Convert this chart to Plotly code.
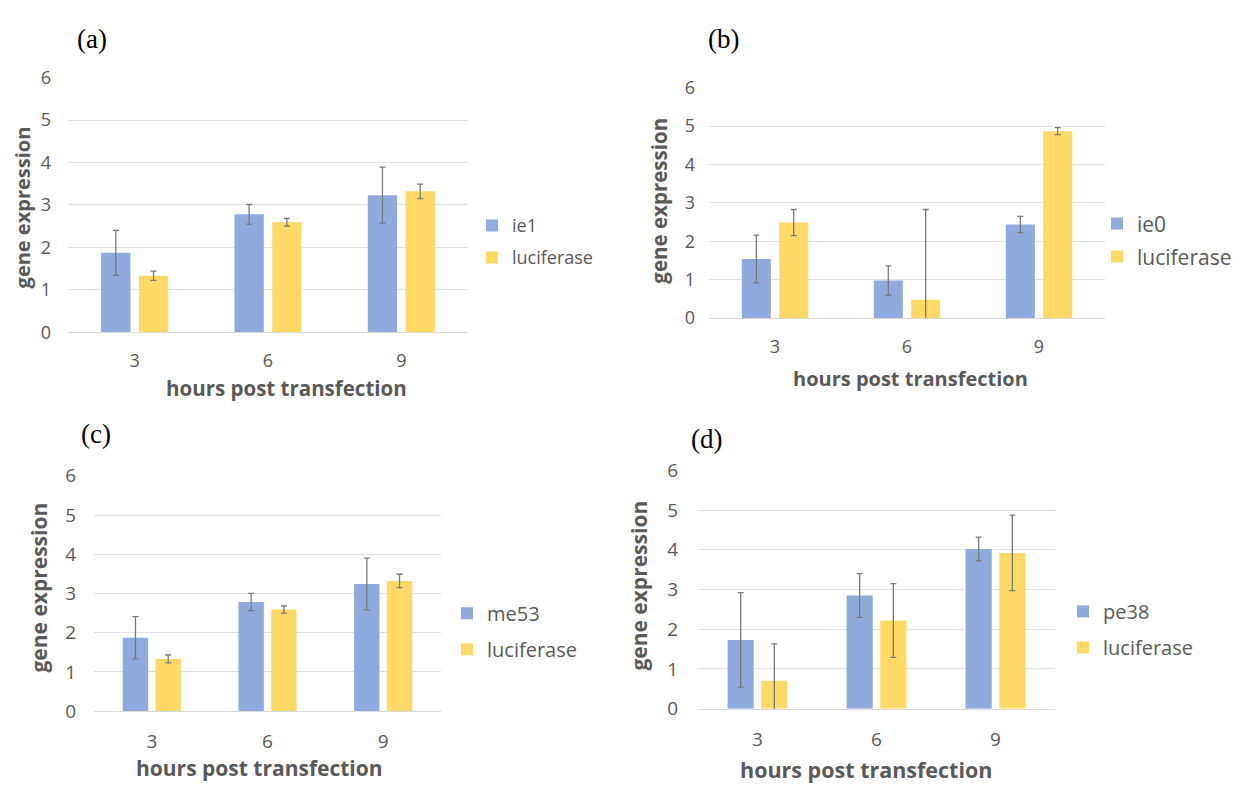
import plotly.graph_objects as go

W, H = 1242, 794

hours = ["3", "6", "9"]

# panel (a)
a_gene_name = "ie1"
a_gene = [1.87, 2.78, 3.23]
a_gene_err = [0.53, 0.23, 0.66]
a_luc = [1.33, 2.59, 3.32]
a_luc_err = [0.11, 0.09, 0.17]

# panel (b)
b_gene_name = "ie0"
b_gene = [1.54, 0.98, 2.44]
b_gene_err = [0.62, 0.38, 0.21]
b_luc = [2.49, 0.48, 4.87]
b_luc_err = [0.34, 2.35, 0.09]

# panel (c)
c_gene_name = "me53"
c_gene = [1.87, 2.78, 3.24]
c_gene_err = [0.54, 0.22, 0.66]
c_luc = [1.33, 2.59, 3.32]
c_luc_err = [0.10, 0.09, 0.17]

# panel (d)
d_gene_name = "pe38"
d_gene = [1.73, 2.85, 4.02]
d_gene_err = [1.19, 0.55, 0.30]
d_luc = [0.70, 2.22, 3.92]
d_luc_err = [0.93, 0.93, 0.95]

panel_letters = ["(a)", "(b)", "(c)", "(d)"]
y_ticks = [0, 1, 2, 3, 4, 5, 6]
x_title = "hours post transfection"
y_title = "gene expression"
luc_name = "luciferase"

BLUE = "#8faadc"
GOLD = "#ffd966"
ERR = "#7a7a7a"
GRID = "#e0e0e0"
TXT = "#595959"
FONT = "Open Sans"

def px(x):
    return x / W

def py(y):
    return 1 - y / H

# pixel geometry per panel
panels = [
    dict(gene_name=a_gene_name, gene=a_gene, gerr=a_gene_err, luc=a_luc, lerr=a_luc_err,
         x0=68, x1=468, y0=330, y6=66, tickfs=18, legfs=18, xtfs=20.5, ytfs=20,
         ytitle=(22, 201), xtitle=(286, 388), letter=(92, 27),
         leg=(512, 215, 247), xstand=12, ystand=16),
    dict(gene_name=b_gene_name, gene=b_gene, gerr=b_gene_err, luc=b_luc, lerr=b_luc_err,
         x0=709, x1=1105, y0=315.5, y6=76.5, tickfs=18, legfs=21, xtfs=20, ytfs=20.5,
         ytitle=(659, 194), xtitle=(910, 378), letter=(723, 27),
         leg=(1137, 213, 246), xstand=12, ystand=13),
    dict(gene_name=c_gene_name, gene=c_gene, gerr=c_gene_err, luc=c_luc, lerr=c_luc_err,
         x0=94, x1=441, y0=721.7, y6=477.7, tickfs=19, legfs=20, xtfs=21, ytfs=21,
         ytitle=(39, 594), xtitle=(259, 781), letter=(96, 435),
         leg=(487, 616, 652), xstand=13, ystand=17),
    dict(gene_name=d_gene_name, gene=d_gene, gerr=d_gene_err, luc=d_luc, lerr=d_luc_err,
         x0=698, x1=1055, y0=719.2, y6=472, tickfs=19, legfs=20, xtfs=21.5, ytfs=21,
         ytitle=(639, 592), xtitle=(866, 782), letter=(706, 440),
         leg=(1103, 614, 650), xstand=14, ystand=19),
]

BAR_W = 0.22
GAP = 0.063

fig = go.Figure()
annotations = []
layout = {}

for i, p in enumerate(panels):
    n = "" if i == 0 else str(i + 1)
    xa, ya = "x" + n, "y" + n
    leg = "legend" + n
    fig.add_trace(go.Bar(
        x=hours, y=p["gene"], name=p["gene_name"], xaxis=xa, yaxis=ya,
        marker=dict(color=BLUE, line=dict(width=0)),
        width=BAR_W, offset=-(BAR_W + GAP / 2),
        error_y=dict(type="data", array=p["gerr"], color=ERR, thickness=1.3, width=3),
        legend=leg, legendgroup="g" + n, showlegend=True))
    fig.add_trace(go.Bar(
        x=hours, y=p["luc"], name=luc_name, xaxis=xa, yaxis=ya,
        marker=dict(color=GOLD, line=dict(width=0)),
        width=BAR_W, offset=GAP / 2,
        error_y=dict(type="data", array=p["lerr"], color=ERR, thickness=1.3, width=3),
        legend=leg, legendgroup="l" + n, showlegend=True))

    layout["xaxis" + n] = dict(
        domain=[px(p["x0"]), px(p["x1"])], anchor=ya, type="category",
        range=[-0.5, 2.5], showgrid=False, showline=True, linecolor="#d9d9d9",
        linewidth=1, ticks="", tickfont=dict(family=FONT, size=p["tickfs"], color=TXT),
        ticklabelstandoff=p["xstand"], zeroline=False, fixedrange=True)
    layout["yaxis" + n] = dict(
        domain=[py(p["y0"]), py(p["y6"])], anchor=xa, range=[0, 6.02],
        tickvals=y_ticks, showgrid=True, gridcolor=GRID, gridwidth=1,
        zeroline=False, showline=False, ticks="",
        tickfont=dict(family=FONT, size=p["tickfs"], color=TXT),
        ticklabelstandoff=p["ystand"], fixedrange=True)

    legx, legy1, legy2 = p["leg"]
    f = p["legfs"]
    base = 1.3 * f + 3
    layout[leg] = dict(
        x=px(legx - 40), y=py(legy1 - (0.65 * f + 2.5)), xanchor="left", yanchor="top",
        font=dict(family=FONT, size=f, color=TXT),
        bgcolor="rgba(0,0,0,0)", borderwidth=0,
        traceorder="grouped", tracegroupgap=max(0, (legy2 - legy1) - base),
        itemclick=False, itemdoubleclick=False)

    annotations.append(dict(
        text=y_title, x=px(p["ytitle"][0]), y=py(p["ytitle"][1]), xref="paper", yref="paper",
        textangle=-90, showarrow=False, xanchor="center", yanchor="middle",
        font=dict(family=FONT, size=p["ytfs"], color=TXT, weight="bold")))
    annotations.append(dict(
        text=x_title, x=px(p["xtitle"][0]), y=py(p["xtitle"][1]), xref="paper", yref="paper",
        showarrow=False, xanchor="center", yanchor="middle",
        font=dict(family=FONT, size=p["xtfs"], color=TXT, weight="bold")))
    annotations.append(dict(
        text=panel_letters[i], x=px(p["letter"][0]), y=py(p["letter"][1]), xref="paper", yref="paper",
        showarrow=False, xanchor="center", yanchor="middle",
        font=dict(family="Liberation Serif", size=27, color="#000000")))

fig.update_layout(
    width=W, height=H, margin=dict(l=0, r=0, t=0, b=0),
    paper_bgcolor="white", plot_bgcolor="white",
    barmode="overlay", annotations=annotations, **layout)

fig.write_html("out.html", config={"displayModeBar": False},
               post_script="document.body.style.margin='0';")
